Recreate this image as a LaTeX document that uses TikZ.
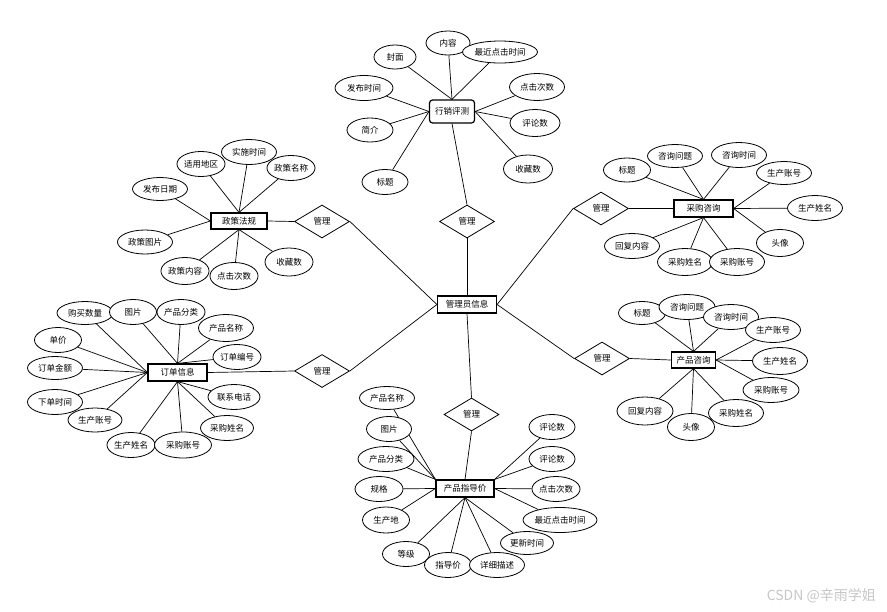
\documentclass[tikz,border=0pt]{standalone}
\usepackage{fontspec}
\setmainfont{Noto Sans CJK SC}
\usetikzlibrary{shapes.geometric}
\pgfdeclarelayer{bgfill}
\pgfdeclarelayer{bg}
\pgfsetlayers{bgfill,bg,main}
\begin{document}
\begin{tikzpicture}[x=1pt,y=-1pt,
  txt/.style={font=\fontsize{8.5}{10}\selectfont},
  attr/.style={ellipse, draw, fill=white, line width=0.8pt, inner sep=0pt, txt},
  ent/.style={rectangle, draw, fill=white, line width=1.2pt, inner sep=0pt, minimum height=17, txt},
  rel/.style={diamond, draw, fill=white, line width=0.8pt, inner sep=0pt, minimum width=55, minimum height=33, txt},
  link/.style={line width=0.7pt}]
\begin{pgfonlayer}{bgfill}
\fill[white] (0,0) rectangle (887,611);
\end{pgfonlayer}
\useasboundingbox (0,0) rectangle (887,611);

% entities
\node[ent, minimum width=59] (gl) at (467,304.5) {管理员信息};
\node[ent, minimum width=45, minimum height=23, rounded corners=3pt] (xp) at (452,111.5) {行销评测};
\node[ent, minimum width=56, minimum height=16] (zc) at (239,221) {政策法规};
\node[ent, minimum width=59] (dd) at (177.5,372.5) {订单信息};
\node[ent, minimum width=59] (cg) at (703.5,208.5) {采购咨询};
\node[ent, minimum width=44, minimum height=16] (cz) at (693.5,360) {产品咨询};
\node[ent, minimum width=58] (zd) at (465,488.5) {产品指导价};

% relations
\node[rel] (d1) at (467,221.5) {管理};
\node[rel] (d2) at (322,221.5) {管理};
\node[rel] (d3) at (322,371) {管理};
\node[rel] (d4) at (601,208.5) {管理};
\node[rel] (d5) at (602,358.5) {管理};
\node[rel] (d6) at (471.5,414.5) {管理};

% 行销评测 attributes
\node[attr, minimum width=42, minimum height=24] (a1) at (395,57) {封面};
\node[attr, minimum width=44, minimum height=24] (a2) at (448,43) {内容};
\node[attr, minimum width=75, minimum height=22] (a3) at (500,52) {最近点击时间};
\node[attr, minimum width=58, minimum height=25] (a4) at (364,88) {发布时间};
\node[attr, minimum width=46, minimum height=24] (a5) at (370,130) {简介};
\node[attr, minimum width=46, minimum height=25] (a6) at (385,182) {标题};
\node[attr, minimum width=55, minimum height=27] (a7) at (537,87) {点击次数};
\node[attr, minimum width=50, minimum height=27] (a8) at (535,123) {评论数};
\node[attr, minimum width=49, minimum height=28] (a9) at (528,169) {收藏数};

% 政策法规 attributes
\node[attr, minimum width=47, minimum height=25] (b1) at (201,164) {适用地区};
\node[attr, minimum width=55, minimum height=25] (b2) at (249,152) {实施时间};
\node[attr, minimum width=47, minimum height=25] (b3) at (291,168) {政策名称};
\node[attr, minimum width=55, minimum height=23] (b4) at (160,189) {发布日期};
\node[attr, minimum width=55, minimum height=24] (b5) at (145,242) {政策图片};
\node[attr, minimum width=47, minimum height=27] (b6) at (185,271) {政策内容};
\node[attr, minimum width=48, minimum height=27] (b7) at (234,276) {点击次数};
\node[attr, minimum width=48, minimum height=28] (b8) at (289,262) {收藏数};

% 采购咨询 attributes
\node[attr, minimum width=47, minimum height=24] (c1) at (627,170) {标题};
\node[attr, minimum width=55, minimum height=23] (c2) at (675,156) {咨询问题};
\node[attr, minimum width=55, minimum height=25] (c3) at (739,155) {咨询时间};
\node[attr, minimum width=55, minimum height=23] (c4) at (784,173) {生产账号};
\node[attr, minimum width=55, minimum height=25] (c5) at (815,208) {生产姓名};
\node[attr, minimum width=47, minimum height=27] (c6) at (780,243) {头像};
\node[attr, minimum width=55, minimum height=27] (c8) at (685,262) {采购姓名};
\node[attr, minimum width=55, minimum height=27] (c7) at (737,262) {采购账号};
\node[attr, minimum width=55, minimum height=25] (c9) at (632,246) {回复内容};

% 订单信息 attributes
\node[attr, minimum width=56, minimum height=23] (e1) at (85,313) {购买数量};
\node[attr, minimum width=47, minimum height=25] (e2) at (133,312) {图片};
\node[attr, minimum width=48, minimum height=25] (e3) at (181,312) {产品分类};
\node[attr, minimum width=55, minimum height=27] (e4) at (226,328) {产品名称};
\node[attr, minimum width=47, minimum height=25] (e5) at (237,357) {订单编号};
\node[attr, minimum width=47, minimum height=25] (e6) at (58,340) {单价};
\node[attr, minimum width=55, minimum height=23] (e7) at (55,368) {订单金额};
\node[attr, minimum width=55, minimum height=25] (e8) at (55,402) {下单时间};
\node[attr, minimum width=54, minimum height=24] (e9) at (95,420) {生产账号};
\node[attr, minimum width=47, minimum height=25] (e10) at (131,445) {生产姓名};
\node[attr, minimum width=53, minimum height=25] (e12) at (227,428) {采购姓名};
\node[attr, minimum width=57, minimum height=26] (e11) at (183,445) {采购账号};
\node[attr, minimum width=52, minimum height=25] (e13) at (234,397) {联系电话};

% 产品咨询 attributes
\node[attr, minimum width=47, minimum height=23] (f1) at (642,313) {标题};
\node[attr, minimum width=56, minimum height=25] (f2) at (687,307) {咨询问题};
\node[attr, minimum width=55, minimum height=25] (f3) at (731,317) {咨询时间};
\node[attr, minimum width=55, minimum height=25] (f4) at (773,330) {生产账号};
\node[attr, minimum width=55, minimum height=27] (f5) at (780,361) {生产姓名};
\node[attr, minimum width=56, minimum height=25] (f6) at (771,390) {采购账号};
\node[attr, minimum width=47, minimum height=27] (f8) at (691,427) {头像};
\node[attr, minimum width=55, minimum height=27] (f7) at (736,413) {采购姓名};
\node[attr, minimum width=56, minimum height=28] (f9) at (645,411) {回复内容};

% 产品指导价 attributes
\node[attr, minimum width=55, minimum height=23] (g1) at (387,398) {产品名称};
\node[attr, minimum width=45, minimum height=25] (g2) at (389,429) {图片};
\node[attr, minimum width=56, minimum height=25] (g3) at (386,459) {产品分类};
\node[attr, minimum width=48, minimum height=25] (g4) at (379,489) {规格};
\node[attr, minimum width=47, minimum height=26] (g5) at (386,520) {生产地};
\node[attr, minimum width=47, minimum height=25] (g6) at (406,554) {等级};
\node[attr, minimum width=47, minimum height=25] (g7) at (448,565) {指导价};
\node[attr, minimum width=55, minimum height=25] (g8) at (497,565) {详细描述};
\node[attr, minimum width=53, minimum height=23] (g9) at (527,543) {更新时间};
\node[attr, minimum width=74, minimum height=25] (g10) at (560,520) {最近点击时间};
\node[attr, minimum width=47, minimum height=25] (g11) at (556,489) {点击次数};
\node[attr, minimum width=46, minimum height=25] (g12) at (552,459) {评论数};
\node[attr, minimum width=46, minimum height=25] (g13) at (552,427) {评论数};

% watermark
\node[font=\fontsize{14}{16}\selectfont, text=black!22, anchor=east, inner sep=0pt] (wm) at (876,596) {CSDN @辛雨学姐};

\begin{pgfonlayer}{bg}
% relations to center
\draw[link] (gl.north) -- (d1.south);
\draw[link] (xp.south) -- (d1.north);
\draw[link] (gl.west) -- (d2.east);
\draw[link] (zc.east) -- (d2.west);
\draw[link] (gl.west) -- (d3.east);
\draw[link] (dd.east) -- (d3.west);
\draw[link] (gl.east) -- (d4.west);
\draw[link] (cg.west) -- (d4.east);
\draw[link] (gl.east) -- (d5.west);
\draw[link] (cz.west) -- (d5.east);
\draw[link] (gl.south) -- (d6.north);
\draw[link] (zd.north) -- (d6.south);
% 行销评测
\foreach \n in {a1,a2,a3} \draw[link] (\n) -- (xp.north);
\foreach \n in {a4,a5,a6} \draw[link] (\n) -- (xp.west);
\foreach \n in {a7,a8,a9} \draw[link] (\n) -- (xp.east);
% 政策法规
\foreach \n in {b1,b2,b3} \draw[link] (\n) -- (zc.north);
\foreach \n in {b4,b5} \draw[link] (\n) -- (zc.west);
\foreach \n in {b6,b7,b8} \draw[link] (\n) -- (zc.south);
% 采购咨询
\foreach \n in {c1,c2,c3} \draw[link] (\n) -- (cg.north);
\foreach \n in {c4,c5,c6} \draw[link] (\n) -- (cg.east);
\foreach \n in {c7,c8,c9} \draw[link] (\n) -- (cg.south);
% 订单信息
\foreach \n in {e1,e6,e7,e8,e9} \draw[link] (\n) -- (dd.west);
\foreach \n in {e2,e3,e4,e5} \draw[link] (\n) -- (dd.north);
\foreach \n in {e10,e11,e12,e13} \draw[link] (\n) -- (dd.south);
% 产品咨询
\foreach \n in {f1,f2,f3} \draw[link] (\n) -- (cz.north);
\foreach \n in {f4,f5,f6} \draw[link] (\n) -- (cz.east);
\foreach \n in {f7,f8,f9} \draw[link] (\n) -- (cz.south);
% 产品指导价
\foreach \n in {g1,g2,g3} \draw[link] (\n) -- (zd.north west);
\foreach \n in {g4,g5} \draw[link] (\n) -- (zd.west);
\foreach \n in {g6,g7,g8,g9} \draw[link] (\n) -- (zd.south);
\foreach \n in {g10,g11} \draw[link] (\n) -- (zd.east);
\foreach \n in {g12,g13} \draw[link] (\n) -- (zd.north east);
\end{pgfonlayer}
\end{tikzpicture}
\end{document}
